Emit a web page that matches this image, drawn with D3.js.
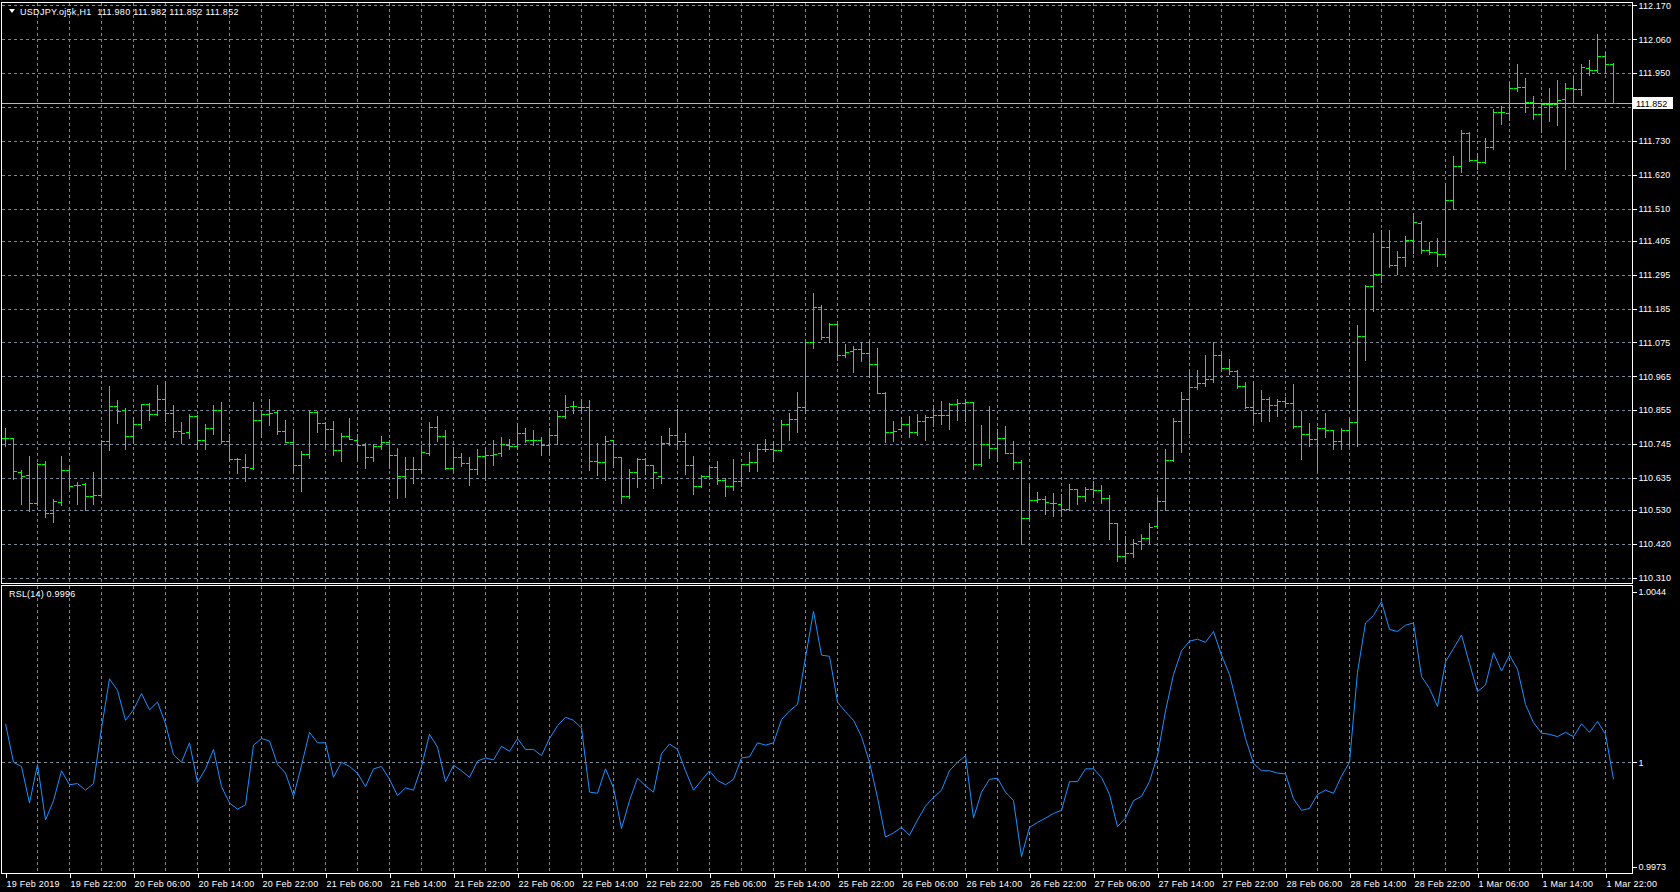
<!DOCTYPE html>
<html><head><meta charset="utf-8">
<script src="https://cdn.jsdelivr.net/npm/d3@7"></script>
<style>
html,body{margin:0;padding:0;background:#000;overflow:hidden}
svg{display:block}
text{font-family:"Liberation Sans",Arial,sans-serif;font-size:9px;fill:#fff}
</style></head><body>
<svg id="c" width="1680" height="892"></svg>
<script>
const symbolTitle = "USDJPY.oj5k,H1";
const indicatorTitle = "RSL(14)";

const opens = [
110.763,110.763,110.655,110.645,110.554,110.679,110.521,110.557,110.661,110.611,
110.616,110.576,110.579,110.753,110.869,110.855,110.772,110.811,110.875,110.843,
110.892,110.847,110.786,110.784,110.837,110.759,110.796,110.854,110.754,110.696,
110.669,110.668,110.824,110.841,110.848,110.787,110.750,110.677,110.712,110.850,
110.812,110.792,110.725,110.770,110.759,110.743,110.704,110.738,110.751,110.708,
110.640,110.664,110.664,110.716,110.799,110.770,110.667,110.701,110.682,110.662,
110.707,110.710,110.714,110.743,110.738,110.782,110.758,110.758,
110.740,110.774,110.837,110.867,110.866,110.864,110.690,110.687,110.758,110.702,
110.577,110.655,110.697,110.677,110.642,110.748,110.774,110.755,110.677,110.609,
110.641,110.671,110.628,110.607,110.623,110.681,110.687,110.729,110.727,110.725,
110.809,110.826,110.864,111.077,111.190,111.094,111.136,111.033,111.047,111.054,
111.040,111.004,110.912,110.784,110.794,110.810,110.785,110.821,110.834,110.838,
110.840,110.875,110.877,110.880,110.681,110.746,110.733,110.764,110.716,110.685,
110.504,110.564,110.566,110.554,110.550,110.534,110.599,110.576,110.597,110.595,
110.570,110.487,110.380,110.391,110.428,110.439,110.477,110.558,110.693,110.821,
110.892,110.930,110.944,110.957,111.035,110.991,110.983,110.932,110.865,110.845,
110.892,110.872,110.885,110.879,110.804,110.776,110.760,110.798,110.789,110.755,
110.791,110.816,111.096,111.258,111.298,111.384,111.328,111.351,111.407,111.462,
111.375,111.370,111.362,111.539,111.647,111.755,111.668,111.660,111.711,111.825,
111.820,111.902,111.905,111.857,111.818,111.850,111.850,111.866,111.900,111.897,
111.968,111.961,112.005,111.980];

const highs = [
110.798,110.763,110.659,110.705,110.682,110.690,110.567,110.705,110.666,110.621,
110.618,110.654,110.759,110.934,110.889,110.862,110.833,110.876,110.878,110.935,
110.950,110.873,110.815,110.841,110.839,110.809,110.870,110.880,110.776,110.700,
110.712,110.880,110.842,110.892,110.855,110.824,110.788,110.722,110.854,110.851,
110.817,110.818,110.781,110.830,110.777,110.747,110.744,110.772,110.759,110.732,
110.703,110.704,110.741,110.815,110.837,110.789,110.734,110.714,110.701,110.730,
110.736,110.757,110.769,110.760,110.813,110.798,110.789,110.767,
110.797,110.853,110.904,110.885,110.890,110.888,110.748,110.771,110.759,110.704,
110.664,110.700,110.698,110.677,110.772,110.798,110.857,110.781,110.707,110.644,
110.673,110.691,110.634,110.697,110.681,110.720,110.744,110.761,110.755,110.823,
110.846,110.913,111.077,111.234,111.197,111.138,111.137,111.070,111.063,111.077,
111.081,111.057,110.913,110.821,110.832,110.837,110.841,110.839,110.871,110.885,
110.879,110.891,110.891,110.881,110.808,110.869,110.795,110.804,110.756,110.693,
110.613,110.590,110.575,110.584,110.581,110.616,110.600,110.606,110.626,110.610,
110.580,110.489,110.446,110.435,110.453,110.489,110.569,110.730,110.829,110.915,
110.985,110.986,111.035,111.075,111.046,111.021,110.986,110.947,110.949,110.919,
110.898,110.892,110.898,110.940,110.853,110.812,110.800,110.844,110.790,110.798,
110.829,111.132,111.261,111.431,111.439,111.439,111.372,111.421,111.496,111.468,
111.402,111.414,111.592,111.680,111.766,111.758,111.689,111.738,111.833,111.842,
111.922,111.981,111.934,111.874,111.850,111.901,111.926,111.917,111.941,111.979,
111.991,112.078,112.018,111.982];

const lows = [
110.737,110.630,110.551,110.528,110.546,110.507,110.491,110.546,110.594,110.549,
110.531,110.551,110.578,110.726,110.814,110.728,110.748,110.797,110.824,110.838,
110.818,110.768,110.747,110.763,110.729,110.730,110.778,110.747,110.693,110.650,
110.623,110.663,110.769,110.806,110.778,110.750,110.653,110.592,110.700,110.785,
110.734,110.710,110.691,110.760,110.692,110.666,110.691,110.728,110.666,110.568,
110.573,110.618,110.649,110.710,110.756,110.663,110.660,110.673,110.611,110.647,
110.627,110.678,110.705,110.727,110.730,110.751,110.741,110.710,
110.708,110.746,110.828,110.844,110.851,110.660,110.643,110.627,110.669,110.553,
110.569,110.604,110.647,110.603,110.617,110.741,110.728,110.647,110.582,110.606,
110.637,110.614,110.575,110.595,110.608,110.656,110.656,110.721,110.689,110.722,
110.757,110.783,110.845,111.058,111.086,111.077,111.017,111.026,110.980,111.016,
110.964,110.910,110.750,110.754,110.788,110.767,110.773,110.757,110.802,110.809,
110.792,110.824,110.821,110.663,110.673,110.698,110.689,110.714,110.663,110.420,
110.502,110.557,110.516,110.510,110.510,110.530,110.549,110.558,110.572,110.554,
110.436,110.363,110.357,110.377,110.405,110.419,110.472,110.530,110.688,110.719,
110.781,110.923,110.933,110.947,110.982,110.972,110.928,110.863,110.817,110.821,
110.819,110.835,110.865,110.797,110.697,110.739,110.659,110.767,110.727,110.728,
110.737,110.739,111.018,111.177,111.270,111.321,111.296,111.323,111.367,111.365,
111.363,111.322,111.353,111.510,111.628,111.663,111.640,111.657,111.703,111.786,
111.798,111.892,111.825,111.802,111.760,111.795,111.782,111.639,111.853,111.879,
111.945,111.952,111.952,111.852];

const closes = [
110.763,110.656,110.642,110.554,110.679,110.522,110.560,110.661,110.609,110.611,
110.576,110.580,110.753,110.869,110.852,110.772,110.811,110.875,110.841,110.892,
110.847,110.786,110.780,110.837,110.759,110.796,110.854,110.754,110.696,110.696,
110.669,110.824,110.841,110.846,110.787,110.750,110.677,110.712,110.850,110.812,
110.792,110.725,110.770,110.762,110.743,110.703,110.738,110.751,110.708,110.640,
110.664,110.664,110.718,110.799,110.770,110.667,110.701,110.682,110.662,110.707,
110.710,110.713,110.745,110.737,110.782,110.758,110.758,110.741,
110.774,110.837,110.866,110.867,110.864,110.690,110.687,110.756,110.702,110.577,
110.655,110.697,110.678,110.654,110.748,110.774,110.755,110.677,110.609,110.641,
110.671,110.628,110.607,110.623,110.681,110.687,110.729,110.727,110.725,110.809,
110.826,110.864,111.077,111.190,111.094,111.136,111.033,111.044,111.054,111.040,
111.004,110.912,110.784,110.787,110.810,110.785,110.821,110.834,110.838,110.840,
110.875,110.877,110.880,110.681,110.746,110.733,110.764,110.716,110.685,110.504,
110.564,110.566,110.556,110.554,110.534,110.600,110.576,110.597,110.595,110.570,
110.487,110.380,110.391,110.424,110.439,110.474,110.558,110.693,110.821,110.892,
110.930,110.944,110.957,111.035,110.991,110.983,110.932,110.865,110.845,110.892,
110.870,110.885,110.879,110.804,110.776,110.760,110.798,110.789,110.755,110.791,
110.816,111.096,111.258,111.298,111.384,111.326,111.351,111.407,111.465,111.375,
111.370,111.362,111.539,111.647,111.755,111.668,111.660,111.711,111.825,111.822,
111.902,111.905,111.857,111.818,111.850,111.850,111.864,111.900,111.897,111.969,
111.961,112.005,111.978,111.852];

const rsl = [
1.00099,1.00000,0.99989,0.99895,0.99994,0.99851,0.99901,0.99978,0.99942,0.99945,
0.99928,0.99945,1.00088,1.00215,1.00185,1.00108,1.00135,1.00177,1.00135,1.00155,
1.00099,1.00019,1.00000,1.00050,0.99948,0.99983,1.00033,0.99937,0.99895,0.99879,
0.99890,1.00044,1.00061,1.00055,0.99994,0.99972,0.99912,0.99992,1.00077,1.00050,
1.00050,0.99961,1.00000,0.99989,0.99972,0.99937,0.99983,0.99989,0.99956,0.99914,
0.99934,0.99928,0.99989,1.00072,1.00039,0.99950,0.99992,0.99978,0.99961,1.00003,
1.00011,1.00006,1.00041,1.00028,1.00061,1.00033,1.00033,1.00017,1.00061,1.00094,
1.00116,1.00108,1.00088,0.99923,0.99920,0.99983,0.99934,0.99829,0.99901,0.99959,
0.99939,0.99923,1.00022,1.00047,1.00033,0.99978,0.99928,0.99953,0.99978,0.99953,
0.99942,0.99956,1.00011,1.00014,1.00050,1.00044,1.00050,1.00110,1.00132,1.00149,
1.00270,1.00389,1.00276,1.00273,1.00155,1.00130,1.00108,1.00066,1.00000,0.99909,
0.99807,0.99818,0.99832,0.99812,0.99851,0.99887,0.99909,0.99928,0.99978,1.00000,
1.00017,0.99856,0.99923,0.99956,0.99959,0.99923,0.99901,0.99757,0.99832,0.99845,
0.99856,0.99868,0.99876,0.99950,0.99950,0.99983,0.99983,0.99961,0.99917,0.99834,
0.99856,0.99901,0.99912,0.99950,1.00017,1.00132,1.00226,1.00287,1.00312,1.00317,
1.00309,1.00337,1.00276,1.00226,1.00144,1.00061,0.99997,0.99978,0.99978,0.99972,
0.99970,0.99906,0.99876,0.99881,0.99917,0.99928,0.99920,0.99964,1.00000,1.00232,
1.00359,1.00378,1.00414,1.00342,1.00337,1.00353,1.00359,1.00221,1.00190,1.00144,
1.00259,1.00293,1.00328,1.00254,1.00182,1.00199,1.00282,1.00235,1.00276,1.00240,
1.00149,1.00102,1.00075,1.00072,1.00066,1.00077,1.00066,1.00099,1.00077,1.00105,
1.00072,0.99956];

const timeLabels = ["19 Feb 2019","19 Feb 22:00","20 Feb 06:00","20 Feb 14:00","20 Feb 22:00",
"21 Feb 06:00","21 Feb 14:00","21 Feb 22:00","22 Feb 06:00","22 Feb 14:00","22 Feb 22:00",
"25 Feb 06:00","25 Feb 14:00","25 Feb 22:00","26 Feb 06:00","26 Feb 14:00","26 Feb 22:00",
"27 Feb 06:00","27 Feb 14:00","27 Feb 22:00","28 Feb 06:00","28 Feb 14:00","28 Feb 22:00",
"1 Mar 06:00","1 Mar 14:00","1 Mar 22:00"];
const priceTicks = [112.170,112.060,111.950,111.840,111.730,111.620,111.510,111.405,111.295,
111.185,111.075,110.965,110.855,110.745,110.635,110.530,110.420,110.310];
const rslTicks = [1.0044, 1, 0.9973];

// ---------------- drawing ----------------
const W = 1680, H = 892;
const L = 1.5, R = 1632.5;
const mainTop = 2.5, mainBot = 583.5, rTop = 585.5, rBot = 873.5;
const gridColor = "#778899", barColor = "#00ff00", rslColor = "#1e90ff";
const n = closes.length;
const last = closes[n - 1];
const svg = d3.select("#c");
svg.append("rect").attr("width", W).attr("height", H).attr("fill", "#000");

const x = d3.scaleLinear().domain([0, n - 1]).range([5, 5 + 8 * (n - 1)]);
const y = d3.scaleLinear().domain([110.310, 112.170]).range([577.8, 5.4]);
const yr = d3.scaleLinear().domain([0.9973, 1.0044]).range([867, 591.5]);
const px = v => Math.round(v) + 0.5;
const fontFam = "Liberation Sans, Arial, sans-serif";

// vertical grid (every 4 bars)
const vg = d3.range(4, n, 4);
const grid = svg.append("g").attr("stroke", gridColor).attr("stroke-dasharray", "3,3")
  .attr("shape-rendering", "crispEdges");
vg.forEach(i => {
  grid.append("line").attr("x1", px(x(i))).attr("x2", px(x(i))).attr("y1", mainTop).attr("y2", mainBot);
  grid.append("line").attr("x1", px(x(i))).attr("x2", px(x(i))).attr("y1", rTop).attr("y2", rBot);
});
priceTicks.forEach(p => {
  grid.append("line").attr("x1", L).attr("x2", R).attr("y1", px(y(p))).attr("y2", px(y(p)));
});
grid.append("line").attr("x1", L).attr("x2", R).attr("y1", px(yr(1))).attr("y2", px(yr(1)));

// current price line
svg.append("line").attr("x1", L).attr("x2", R).attr("y1", px(y(last))).attr("y2", px(y(last)))
  .attr("stroke", "#b8b8b8").attr("shape-rendering", "crispEdges");

// OHLC bars
const bars = svg.append("g").attr("stroke", barColor).attr("shape-rendering", "crispEdges");
for (let i = 0; i < n; i++) {
  const cx = px(x(i));
  const yh = Math.round(y(highs[i])), yl = Math.round(y(lows[i]));
  bars.append("line").attr("x1", cx).attr("x2", cx).attr("y1", yh).attr("y2", Math.max(yl + 1, yh + 1));
  const yo = px(y(opens[i])), yc = px(y(closes[i]));
  bars.append("line").attr("x1", cx - 3.5).attr("x2", cx).attr("y1", yo).attr("y2", yo);
  bars.append("line").attr("x1", cx).attr("x2", cx + 3.5).attr("y1", yc).attr("y2", yc);
}

// RSL line
svg.append("path").datum(rsl)
  .attr("d", d3.line().x((d, i) => x(i) + 0.5).y(d => yr(d)))
  .attr("fill", "none").attr("stroke", rslColor).attr("stroke-width", 1);

// panel borders
const borders = svg.append("g").attr("stroke", "#fff").attr("fill", "none").attr("shape-rendering", "crispEdges");
borders.append("rect").attr("x", L).attr("y", mainTop).attr("width", R - L).attr("height", mainBot - mainTop);
borders.append("rect").attr("x", L).attr("y", rTop).attr("width", R - L).attr("height", rBot - rTop);

// price axis (the 111.840 label is hidden under the current-price box, as in MT4)
const hidden = d3.least(priceTicks, p => Math.abs(p - last));
const ya = svg.append("g").attr("transform", `translate(${R},0)`)
  .call(d3.axisRight(y).tickValues(priceTicks).tickSize(4).tickPadding(2)
    .tickFormat(d => d === hidden ? "" : d3.format(".3f")(d)));
ya.select(".domain").remove();
ya.selectAll(".tick line").attr("stroke", "#fff").attr("shape-rendering", "crispEdges");
ya.selectAll(".tick text").attr("fill", "#fff").style("font-size", "9px").style("font-family", fontFam)
  .style("letter-spacing", "0.1px");

// current price box
const cy = Math.round(y(last));
svg.append("rect").attr("x", 1633).attr("y", cy - 6).attr("width", 40).attr("height", 12).attr("fill", "#fff");
svg.append("text").attr("x", 1636).attr("y", cy + 3.5).style("fill", "#000")
  .text(d3.format(".3f")(last));

// RSL axis
const ra = svg.append("g").attr("transform", `translate(${R},0)`)
  .call(d3.axisRight(yr).tickValues(rslTicks).tickSize(4).tickPadding(2)
    .tickFormat(d => d === 1 ? "1" : d3.format(".4f")(d)));
ra.select(".domain").remove();
ra.selectAll(".tick line").attr("stroke", "#fff").attr("shape-rendering", "crispEdges");
ra.selectAll(".tick text").attr("fill", "#fff").style("font-size", "9px").style("font-family", fontFam);

// time axis
const xa = svg.append("g").attr("transform", `translate(0,${rBot})`)
  .call(d3.axisBottom(x).tickValues(d3.range(0, n, 8)).tickSize(4).tickPadding(3)
    .tickFormat((d, i) => timeLabels[i]));
xa.select(".domain").remove();
xa.selectAll(".tick line").attr("stroke", "#fff").attr("shape-rendering", "crispEdges")
  .attr("transform", "translate(0.5,0)");
xa.selectAll(".tick text").attr("fill", "#fff").attr("text-anchor", "start").attr("dx", "1")
  .style("font-size", "9px").style("font-family", fontFam).style("letter-spacing", "0.25px");

// header
svg.append("path").attr("d", "M9,9 L15,9 L12,13 Z").attr("fill", "#fff");
const fmt = d3.format(".3f");
svg.append("text").attr("x", 20).attr("y", 15)
  .attr("xml:space", "preserve").style("white-space", "pre").style("letter-spacing", "0.3px")
  .text(`${symbolTitle}  ${fmt(opens[n-1])} ${fmt(highs[n-1])} ${fmt(lows[n-1])} ${fmt(closes[n-1])}`);
svg.append("text").attr("x", 9).attr("y", 597).style("letter-spacing", "0.2px")
  .text(`${indicatorTitle} ${d3.format(".4f")(rsl[n-1])}`);
</script>
</body></html>
